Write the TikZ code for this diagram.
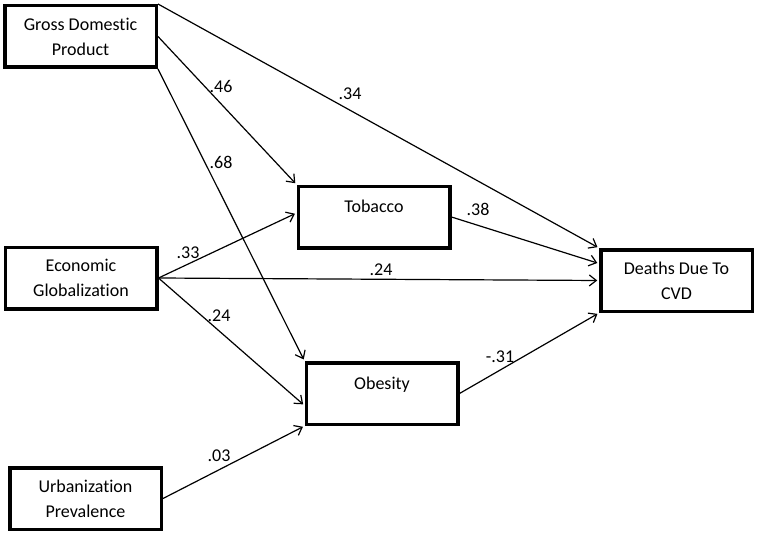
\documentclass[tikz,border=0pt]{standalone}
\usepackage{fontspec}
\setmainfont{Carlito}[Ligatures=NoCommon]
\usetikzlibrary{arrows.meta}

\begin{document}
\begin{tikzpicture}[x=1pt,y=-1pt,>={Straight Barb[length=7pt,width=11pt]},
 font=\fontsize{18}{25}\selectfont,
 box/.style={draw=black,line width=3.5pt,align=center,minimum width=151.5pt,minimum height=61.5pt,inner sep=0pt},
 onel/.style={text depth=21pt},
 link/.style={->,line width=1.2pt,shorten >=1.75pt}]
\useasboundingbox (0,0) rectangle (758,535);
\node[box] (gdp) at (80.5,36.5) {Gross Domestic\\Product};
\node[box] (eco) at (81,278) {Economic\\Globalization};
\node[box] (urb) at (85.5,498.5) {Urbanization\\Prevalence};
\node[box,onel] (tob) at (374,217) {Tobacco};
\node[box,onel] (obe) at (382,393.5) {Obesity};
\node[box] (cvd) at (676.5,280.5) {Deaths Due To\\CVD};
\draw[link] (gdp.north east) -- (cvd.north west);
\draw[link] (gdp.east) -- (tob.north west);
\draw[link] (gdp.south east) -- (obe.north west);
\draw[link] (eco.east) -- ([yshift=4pt]tob.west);
\draw[link] (eco.east) -- (cvd.west);
\draw[link] (eco.east) -- ([yshift=-12pt]obe.west);
\draw[link] (urb.east) -- (obe.south west);
\draw[link] (tob.east) -- ([yshift=17pt]cvd.west);
\draw[link] (obe.east) -- (cvd.south west);
\node (l46) at (221,86) {.46};
\node (l34) at (350,94) {.34};
\node (l68) at (221,162) {.68};
\node (l33) at (188,253) {.33};
\node (l24a) at (381,270) {.24};
\node (l24b) at (219,316) {.24};
\node (l03) at (219,456) {.03};
\node (l38) at (478,209) {.38};
\node (l31) at (500,357) {-.31};
\end{tikzpicture}
\end{document}
